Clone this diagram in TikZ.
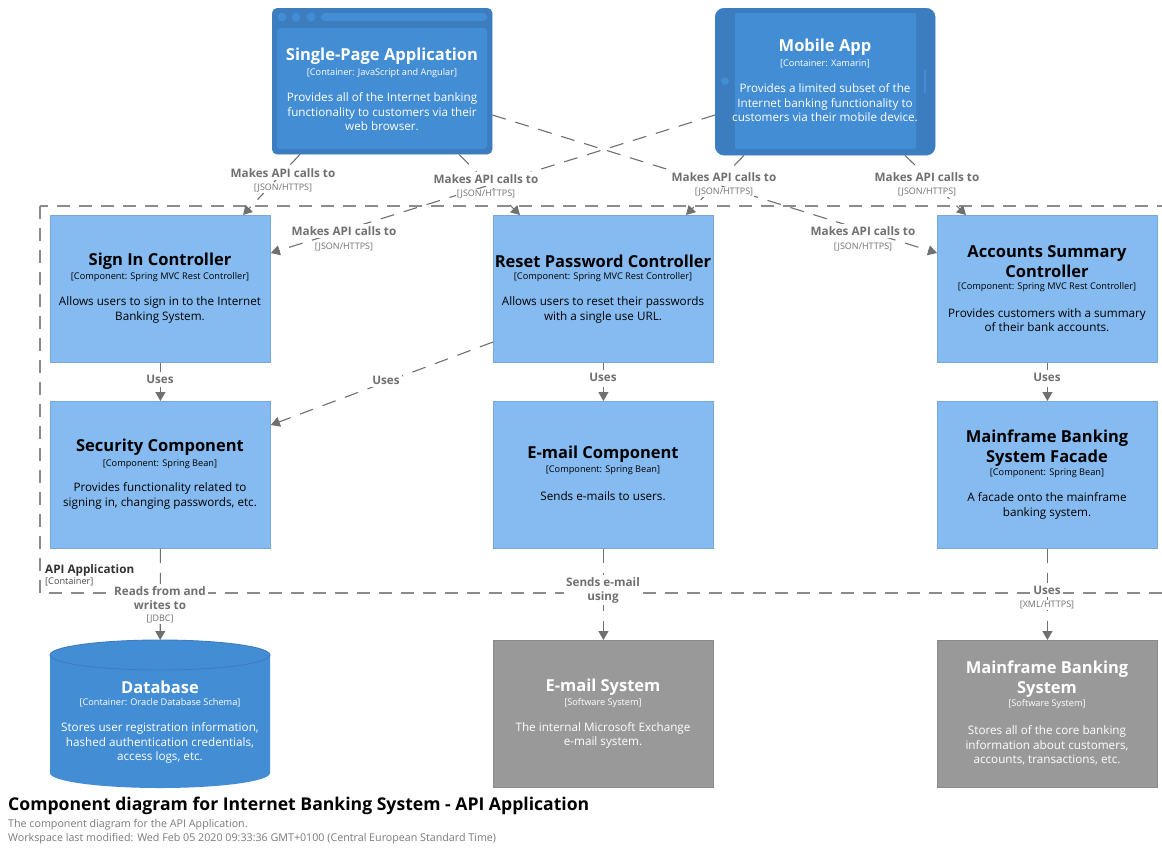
\documentclass[tikz,border=0pt]{standalone}
\usepackage{fontspec}
\setmainfont{Open Sans}
\usetikzlibrary{arrows.meta,calc}
\definecolor{compfill}{HTML}{85BBF0}
\definecolor{compline}{HTML}{78A8D8}
\definecolor{contfill}{HTML}{438DD5}
\definecolor{contdark}{HTML}{3C7DC0}
\definecolor{sysfill}{HTML}{999999}
\definecolor{sysline}{HTML}{8A8A8A}
\definecolor{relcol}{HTML}{707070}
\definecolor{bndcol}{HTML}{8C8C8C}
\definecolor{subcol}{HTML}{7A7A7A}
\begin{document}
\begin{tikzpicture}[x=1pt,y=-1pt,
  compbox/.style={draw=compline, fill=compfill, line width=0.8pt, minimum width=220pt, minimum height=147pt, inner sep=0pt, anchor=north west},
  sysbox/.style={draw=sysline, fill=sysfill, line width=0.8pt, minimum width=220pt, minimum height=147pt, inner sep=0pt, anchor=north west},
  ttl/.style={font=\fontsize{16.5}{20}\selectfont\bfseries, align=center, inner sep=0pt, yshift=-2pt},
  techt/.style={font=\fontsize{9.2}{11}\selectfont, inner sep=0pt, yshift=-2pt},
  desc/.style={font=\fontsize{11.7}{14.5}\selectfont, align=center, inner sep=0pt, yshift=-2pt},
  wht/.style={text=white},
  rel/.style={draw=relcol, line width=1.1pt, dash pattern=on 14pt off 10pt, -{Triangle[width=10pt,length=9pt]}},
  rlab/.style={font=\fontsize{11.7}{14}\selectfont\bfseries, text=relcol, fill=white, inner sep=2.5pt, align=center},
  rtech/.style={font=\fontsize{9}{10}\selectfont, text=relcol, fill=white, inner sep=1pt},
]
\useasboundingbox (0,0) rectangle (1162,847);
\fill[white] (0,0) rectangle (1162,847);

% boundary
\draw[bndcol, line width=1.3pt, dash pattern=on 13pt off 9pt] (40,206) rectangle (1175,593);
\node[anchor=west, inner sep=0pt, font=\fontsize{11.7}{14}\selectfont\bfseries, text=black!80] (bname) at (45,570) {API Application};
\node[anchor=west, inner sep=0pt, font=\fontsize{9.2}{11}\selectfont, text=black!70] (btype) at (45,582) {[Container]};

% Single-Page Application
\node[draw=contdark, fill=contdark, rounded corners=5pt, minimum width=220pt, minimum height=146pt, inner sep=0pt, anchor=north west] (spa) at (272,8) {};
\fill[contfill, rounded corners=3pt] (277,28) rectangle (487,149);
\fill[contfill] (282,17) circle (4.5pt) (296,17) circle (4.5pt) (311,17) circle (4.5pt);
\fill[contfill, rounded corners=4pt] (321,13) rectangle (487,21);
\node[ttl, wht] (spat) at (382,54) {Single-Page Application};
\node[techt, wht] (spak) at (382,71) {[Container: JavaScript and Angular]};
\node[desc, wht] (spad) at (382,110) {Provides all of the Internet banking\\functionality to customers via their\\web browser.};

% Mobile App
\node[draw=contdark, fill=contdark, rounded corners=9pt, minimum width=220pt, minimum height=147pt, inner sep=0pt, anchor=north west] (mobile) at (715,8) {};
\fill[contfill, rounded corners=2pt] (735,13) rectangle (916,149);
\fill[contfill] (725,81) circle (4pt);
\draw[contfill, line width=1.2pt] (925,70) -- (925,93);
\node[ttl, wht] (mobt) at (825,45) {Mobile App};
\node[techt, wht] (mobk) at (825,62) {[Container: Xamarin]};
\node[desc, wht] (mobd) at (825,101) {Provides a limited subset of the\\Internet banking functionality to\\customers via their mobile device.};

% components
\node[compbox] (signin) at (50,215) {};
\node[ttl] at (160,259) {Sign In Controller};
\node[techt] at (160,275) {[Component: Spring MVC Rest Controller]};
\node[desc] at (160,308) {Allows users to sign in to the Internet\\Banking System.};

\node[compbox] (reset) at (493,215) {};
\node[ttl] at (603,259) {Reset Password Controller};
\node[techt] at (603,275) {[Component: Spring MVC Rest Controller]};
\node[desc] at (603,308) {Allows users to reset their passwords\\with a single use URL.};

\node[compbox] (accounts) at (937,215) {};
\node[ttl] at (1047,260) {Accounts Summary\\Controller};
\node[techt] at (1047,285) {[Component: Spring MVC Rest Controller]};
\node[desc] at (1047,318) {Provides customers with a summary\\of their bank accounts.};

\node[compbox] (security) at (50,401) {};
\node[ttl] at (160,445) {Security Component};
\node[techt] at (160,462) {[Component: Spring Bean]};
\node[desc] at (160,494) {Provides functionality related to\\signing in, changing passwords, etc.};

\node[compbox] (email) at (493,401) {};
\node[ttl] at (603,452) {E-mail Component};
\node[techt] at (603,468) {[Component: Spring Bean]};
\node[desc] at (603,494) {Sends e-mails to users.};

\node[compbox] (facade) at (937,401) {};
\node[ttl] at (1047,446) {Mainframe Banking\\System Facade};
\node[techt] at (1047,471) {[Component: Spring Bean]};
\node[desc] at (1047,504) {A facade onto the mainframe\\banking system.};

% Database
\node[minimum width=220pt, minimum height=148pt, inner sep=0pt, anchor=north west] (db) at (50,640) {};
\fill[contfill] (50,655) -- (50,773) arc[start angle=180, end angle=0, x radius=110, y radius=15] -- (270,655) -- cycle;
\filldraw[fill=contfill, draw=contdark, line width=0.9pt] (160,655) ellipse [x radius=110, y radius=15];
\node[ttl, wht] at (160,685) {Database};
\node[techt, wht] at (160,701) {[Container: Oracle Database Schema]};
\node[desc, wht] at (160,741) {Stores user registration information,\\hashed authentication credentials,\\access logs, etc.};

% software systems
\node[sysbox] (emailsys) at (493,640) {};
\node[ttl, wht] at (603,685) {E-mail System};
\node[techt, wht] at (603,701) {[Software System]};
\node[desc, wht] at (603,733.5) {The internal Microsoft Exchange\\e-mail system.};

\node[sysbox] (mainframe) at (937,640) {};
\node[ttl, wht] at (1047,677) {Mainframe Banking\\System};
\node[techt, wht] at (1047,702) {[Software System]};
\node[desc, wht] at (1047,743.5) {Stores all of the core banking\\information about customers,\\accounts, transactions, etc.};

% relationships
\draw[rel] ([xshift=28pt]spa.south west) -- ([xshift=193pt]signin.north west);
\draw[rel] ([xshift=187pt]spa.south west) -- ([xshift=27pt]reset.north west);
\draw[rel] ([yshift=-107pt]mobile.north west) -- ([yshift=-38pt]signin.north east);
\draw[rel] ([yshift=-107pt]spa.north east) -- ([yshift=-38pt]accounts.north west);
\draw[rel] ([xshift=29pt]mobile.south west) -- ([xshift=193pt]reset.north west);
\draw[rel] ([xshift=190pt]mobile.south west) -- ([xshift=29pt]accounts.north west);
\draw[rel] (signin.south) -- (security.north);
\draw[rel] ([yshift=-127pt]reset.north west) -- ([yshift=-24pt]security.north east);
\draw[rel] (reset.south) -- (email.north);
\draw[rel] (accounts.south) -- (facade.north);
\draw[rel] (security.south) -- (db.north);
\draw[rel] (email.south) -- (emailsys.north);
\draw[rel] (facade.south) -- (mainframe.north);

% relationship labels
\node[rlab] (l1) at (283,173) {Makes API calls to};
\node[rtech] (t1) at (283,188) {[JSON/HTTPS]};
\node[rlab] (l2) at (486,179) {Makes API calls to};
\node[rtech] (t2) at (486,194) {[JSON/HTTPS]};
\node[rlab] (l3) at (344,231) {Makes API calls to};
\node[rtech] (t3) at (344,247) {[JSON/HTTPS]};
\node[rlab] (l4) at (863,231) {Makes API calls to};
\node[rtech] (t4) at (863,247) {[JSON/HTTPS]};
\node[rlab] (l5) at (724,177) {Makes API calls to};
\node[rtech] (t5) at (724,192) {[JSON/HTTPS]};
\node[rlab] (l6) at (927,177) {Makes API calls to};
\node[rtech] (t6) at (927,192) {[JSON/HTTPS]};
\node[rlab] (l7) at (160,379) {Uses};
\node[rlab] (l8) at (386,380) {Uses};
\node[rlab] (l9) at (603,377) {Uses};
\node[rlab] (l10) at (1047,377) {Uses};
\node[rlab] (l11) at (160,598) {Reads from and\\writes to};
\node[rtech] (t11) at (160,619) {[JDBC]};
\node[rlab] (l12) at (603,590) {Sends e-mail\\using};
\node[rlab] (l13) at (1047,590) {Uses};
\node[rtech] (t13) at (1047,605) {[XML/HTTPS]};

% title
\node[anchor=west, inner sep=0pt, font=\fontsize{17.6}{21}\selectfont\bfseries] (title) at (8,806) {Component diagram for Internet Banking System - API Application};
\node[anchor=west, inner sep=0pt, font=\fontsize{10.7}{12}\selectfont, text=subcol] (sub) at (8,825) {The component diagram for the API Application.};
\node[anchor=west, inner sep=0pt, font=\fontsize{10.7}{12}\selectfont, text=subcol] (mod) at (8,839) {Workspace last modified: Wed Feb 05 2020 09:33:36 GMT+0100 (Central European Standard Time)};
\end{tikzpicture}
\end{document}
